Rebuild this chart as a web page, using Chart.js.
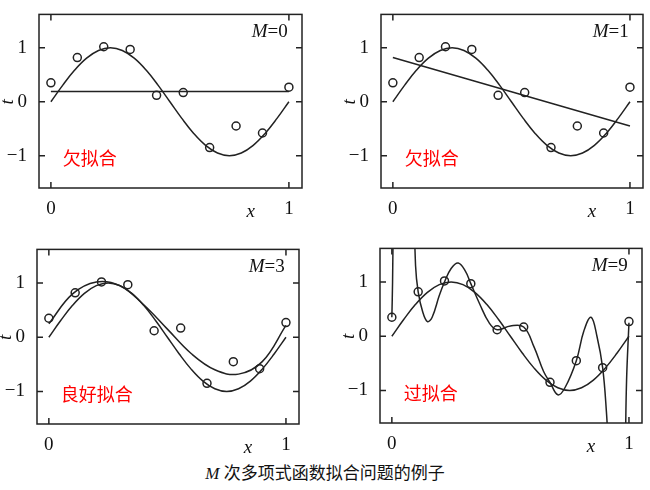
<!DOCTYPE html>
<html><head><meta charset="utf-8">
<script src="https://cdn.jsdelivr.net/npm/chart.js@4.4.0/dist/chart.umd.min.js"></script>
<style>
body{margin:0;background:#fff;width:650px;height:490px;position:relative;overflow:hidden}
canvas{position:absolute}
#cap{position:absolute;top:459px;left:0;width:650px;text-align:center;font:17px "Liberation Serif","Noto Sans CJK SC",serif;color:#111}
</style></head><body>
<canvas id="c0"></canvas><canvas id="c1"></canvas><canvas id="c2"></canvas><canvas id="c3"></canvas>
<div id="cap"><i>M</i> 次多项式函数拟合问题的例子</div>
<script>
const dataX=[0,0.111,0.222,0.333,0.444,0.556,0.667,0.778,0.889,1];
const dataT=[0.35,0.82,1.02,0.97,0.12,0.17,-0.85,-0.45,-0.58,0.27];
const sineX=[0,0.05,0.1,0.15,0.2,0.25,0.3,0.35,0.4,0.45,0.5,0.55,0.6,0.65,0.7,0.75,0.8,0.85,0.9,0.95,1];
const sineY=[0,0.309,0.588,0.809,0.951,1,0.951,0.809,0.588,0.309,0,-0.309,-0.588,-0.809,-0.951,-1,-0.951,-0.809,-0.588,-0.309,0];
const fit0X=[0,1], fit0Y=[0.19,0.19];
const fit1X=[0,1], fit1Y=[0.82,-0.45];
const fit3X=[0,0.1,0.2,0.3,0.4,0.5,0.6,0.7,0.8,0.9,1];
const fit3Y=[0.25,0.8,1.02,0.95,0.6,0.15,-0.3,-0.6,-0.68,-0.45,0.22];
const fit9X=[0,0.003,0.008,null,0.09,0.1,0.111,0.13,0.15,0.17,0.2,0.222,0.25,0.28,0.31,0.333,0.37,0.41,0.444,0.5,0.556,0.6,0.64,0.667,0.7,0.73,0.778,0.81,0.84,0.865,0.889,0.905,0.915,null,0.985,0.99,1];
const fit9Y=[0.35,1.0,3,null,3,1.3,0.82,0.45,0.27,0.35,0.75,1.0,1.25,1.35,1.2,0.97,0.6,0.25,0.12,0.19,0.17,-0.2,-0.65,-0.85,-1.08,-0.95,-0.45,0.1,0.35,0.0,-0.58,-1.4,-2.2,null,-2,-0.8,0.25];
const panels=[
 {id:'c0',box:[39,9,302,188],fx:fit0X,fy:fit0Y,m:'0',lab:'欠拟合'},
 {id:'c1',box:[381,9,643,188],fx:fit1X,fy:fit1Y,m:'1',lab:'欠拟合'},
 {id:'c2',box:[37,244,299,424],fx:fit3X,fy:fit3Y,m:'3',lab:'良好拟合'},
 {id:'c3',box:[380,243,642,423],fx:fit9X,fy:fit9Y,m:'9',lab:'过拟合'}];
const pts=(xs,ys)=>xs.map((x,i)=>x===null?{x:null,y:null}:{x:x,y:ys[i]});
const serif='"Liberation Serif","Times New Roman",serif';
panels.forEach(p=>{
 const [l,t,r,b]=p.box, cv=document.getElementById(p.id);
 const W=r-l+50,H=b-t+45;
 cv.style.left=(l-40)+'px';cv.style.top=(t-10)+'px';cv.width=W;cv.height=H;
 cv.style.width=W+'px';cv.style.height=H+'px';
 const deco={id:'deco',afterDraw(c){const ctx=c.ctx,a=c.chartArea,xs=c.scales.x,ys=c.scales.y;
  ctx.save();ctx.strokeStyle='#222';ctx.lineWidth=1.5;ctx.strokeRect(a.left,a.top,a.width,a.height);
  ctx.beginPath();[0,1].forEach(v=>{const px=xs.getPixelForValue(v);ctx.moveTo(px,a.bottom);ctx.lineTo(px,a.bottom-6);ctx.moveTo(px,a.top);ctx.lineTo(px,a.top+6);});
  [-1,0,1].forEach(v=>{const py=ys.getPixelForValue(v);ctx.moveTo(a.left,py);ctx.lineTo(a.left+6,py);ctx.moveTo(a.right,py);ctx.lineTo(a.right-6,py);});
  ctx.stroke();
  ctx.fillStyle='#111';ctx.font='italic 19px '+serif;ctx.textAlign='center';ctx.textBaseline='middle';
  ctx.fillText('x',xs.getPixelForValue(0.84),a.bottom+24);
  ctx.save();ctx.translate(a.left-31,ys.getPixelForValue(0));ctx.rotate(-Math.PI/2);ctx.fillText('t',0,0);ctx.restore();
  ctx.textAlign='right';
  const mx=xs.getPixelForValue(0.995),my=ys.getPixelForValue(1.3);
  ctx.font='19px '+serif;const w=ctx.measureText('='+p.m).width;ctx.fillText('='+p.m,mx,my);
  ctx.font='italic 19px '+serif;ctx.fillText('M',mx-w,my);
  ctx.textAlign='left';ctx.fillStyle='#f00';ctx.font='18px "Noto Sans CJK SC",sans-serif';
  ctx.fillText(p.lab,xs.getPixelForValue(0.05),ys.getPixelForValue(-1.05));
  ctx.restore();}};
 new Chart(cv,{type:'scatter',data:{datasets:[
  {data:pts(dataX,dataT),showLine:false,pointRadius:4,pointBorderColor:'#222',pointBackgroundColor:'rgba(0,0,0,0)',pointBorderWidth:1.5},
  {data:pts(sineX,sineY),showLine:true,pointRadius:0,borderColor:'#222',borderWidth:1.5,tension:0.4},
  {data:pts(p.fx,p.fy),showLine:true,spanGaps:false,pointRadius:0,borderColor:'#222',borderWidth:1.5,tension:0.4}]},
  options:{responsive:false,animation:false,devicePixelRatio:1,layout:{padding:{top:10,right:10}},
   plugins:{legend:{display:false},tooltip:{enabled:false}},
   scales:{x:{type:'linear',min:-0.05,max:1.055,afterBuildTicks:s=>{s.ticks=[{value:0},{value:1}]},afterFit:s=>{s.height=35},
     grid:{display:false},border:{display:false},ticks:{color:'#111',font:{family:serif,size:19},padding:2}},
    y:{min:-1.6,max:1.62,afterBuildTicks:s=>{s.ticks=[{value:-1},{value:0},{value:1}]},afterFit:s=>{s.width=40},
     grid:{display:false},border:{display:false},ticks:{color:'#111',font:{family:serif,size:19},padding:4,callback:v=>v<0?'\u2212'+(-v):''+v}}}},
  plugins:[deco]});
});
</script></body></html>
